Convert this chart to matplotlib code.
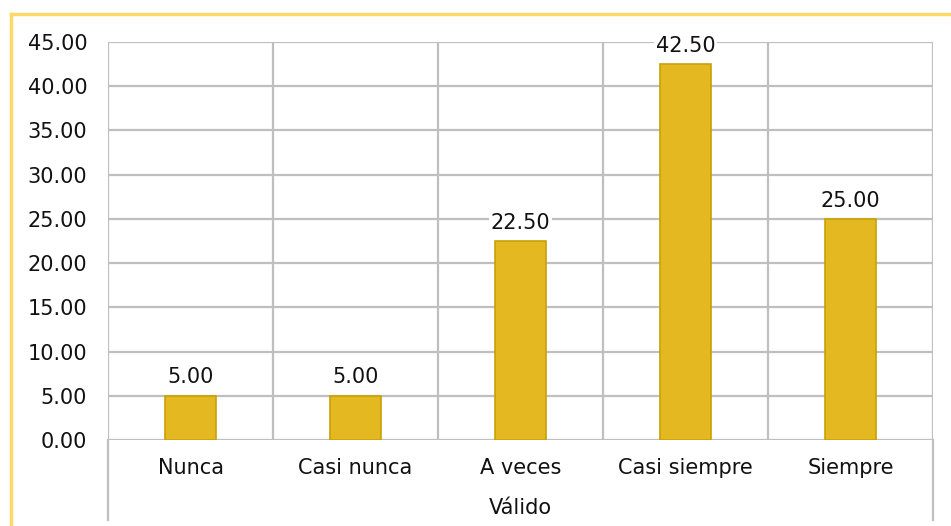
import matplotlib.pyplot as plt
from matplotlib.lines import Line2D

# --- datos ---
categorias = ['Nunca', 'Casi nunca', 'A veces', 'Casi siempre', 'Siempre']
porcentajes = [5.00, 5.00, 22.50, 42.50, 25.00]
eje_x_titulo = 'Válido'

plt.rcParams['font.family'] = ['DejaVu Sans']

W, H = 951, 526
fig = plt.figure(figsize=(W / 100, H / 100), dpi=100)
fig.patch.set_facecolor('white')

# area del grafico (en pixeles de la imagen)
izq, der, arriba, abajo = 108, 933, 42, 440
ax = fig.add_axes([izq / W, 1 - abajo / H, (der - izq) / W, (abajo - arriba) / H])

gris = '#BFBFBF'
texto = '#111111'
fs = 15
x = range(len(categorias))
ax.bar(x, porcentajes, width=0.31, color='#E4B821', edgecolor='#C9A106',
       linewidth=1.2, zorder=3)

for xi, v in zip(x, porcentajes):
    ax.annotate(f'{v:.2f}', (xi, v), xytext=(0, 6), textcoords='offset points',
                ha='center', va='bottom', fontsize=fs, color=texto, zorder=4,
                bbox=dict(boxstyle='square,pad=0.1', fc='white', ec='none'))

ax.set_xlim(-0.5, len(categorias) - 0.5)
ax.set_ylim(0, 45)
ax.set_yticks(range(0, 46, 5))
ax.set_yticklabels([f'{t:.2f}' for t in range(0, 46, 5)], fontsize=fs, color=texto)
ax.set_xticks(list(x))
ax.set_xticklabels(categorias, fontsize=fs, color=texto)
ax.tick_params(axis='both', length=0)
ax.tick_params(axis='y', pad=15)
ax.tick_params(axis='x', pad=13)

# cuadricula
for t in range(0, 46, 5):
    ax.axhline(t, color=gris, lw=1.6, zorder=1)
for b in range(len(categorias) + 1):
    ax.axvline(b - 0.5, color=gris, lw=1.6, zorder=1)
for s in ax.spines.values():
    s.set_visible(False)

ax.set_xlabel(eje_x_titulo, fontsize=fs, color=texto, labelpad=14)

# lineas laterales que bajan hasta el pie
for xp in (izq, der):
    fig.add_artist(Line2D([xp / W, xp / W], [1 - abajo / H, 1 - 520 / H],
                          color=gris, lw=1.6))

# borde amarillo del marco
borde = '#FFD966'
fig.add_artist(Line2D([11 / W, 11 / W], [0, 1 - 14 / H], color=borde, lw=2.5))
fig.add_artist(Line2D([11 / W, 1], [1 - 14 / H, 1 - 14 / H], color=borde, lw=2.5))

fig.savefig('out.png', dpi=100, facecolor='white')
